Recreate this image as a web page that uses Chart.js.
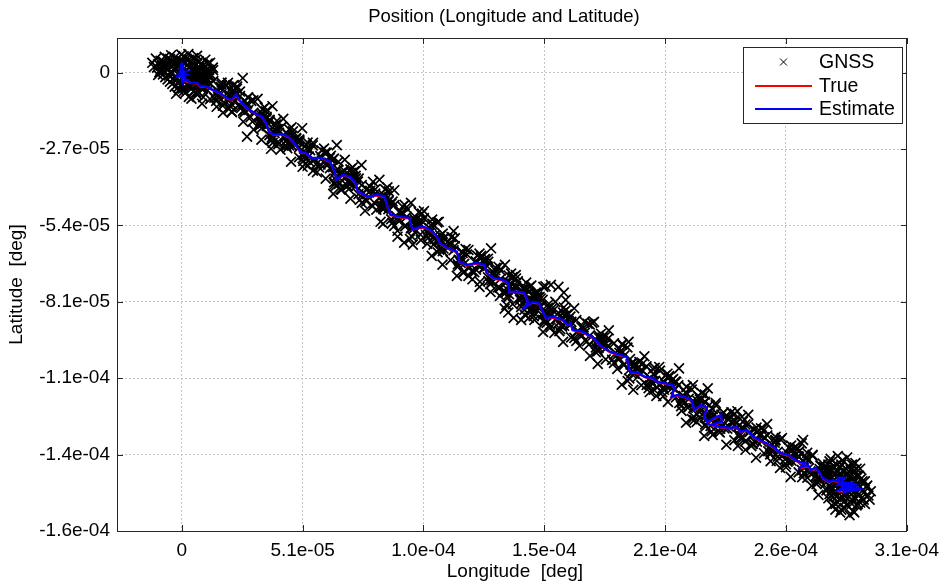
<!DOCTYPE html>
<html>
<head>
<meta charset="utf-8">
<script src="https://cdn.jsdelivr.net/npm/chart.js@4.4.1/dist/chart.umd.min.js"></script>
<style>
  html, body { margin: 0; padding: 0; background: #ffffff; }
  #wrap { width: 947px; height: 585px; position: relative; }
</style>
</head>
<body>
<div id="wrap"><canvas id="pos" width="947" height="585"></canvas></div>
<script>
// Positions are kept in micro-degrees: [longitude, latitude]
const MICRO = 1e-6;

const xTickValues = [0, 51.3, 102.6, 153.9, 205.2, 256.5, 307.8];
const xTickLabels = ['0', '5.1e-05', '1.0e-04', '1.5e-04', '2.1e-04', '2.6e-04', '3.1e-04'];
const yTickValues = [0, -27.1, -54.2, -81.3, -108.4, -135.5, -162.6];
const yTickLabels = ['0', '-2.7e-05', '-5.4e-05', '-8.1e-05', '-1.1e-04', '-1.4e-04', '-1.6e-04'];
const xRange = [-27.5, 307.8];
const yRange = [-162.6, 12.3];

// GNSS fixes while parked at the start
const gnssStart = [
  [-12.5,3.5],[-11,5],[-10.5,1.8],[-9,4.2],[-8.5,2.5],[-8,0.5],[-7.2,5.6],[-6.5,3],[-6,1.2],[-5.5,-1],
  [-5,4.8],[-4.4,2.2],[-4,0],[-3.6,-2.2],[-3,5.4],[-2.5,3.4],[-2,1.5],[-1.6,-0.6],[-1,-3],[-0.5,4.4],
  [0,2.2],[0.4,-1.4],[0.8,5.8],[1.2,3.6],[1.6,0.8],[2,-2.5],[2.5,-4.4],[3,4.6],[3.4,2],[3.8,-0.4],
  [4.2,-3],[4.8,5.2],[5.2,3],[5.6,0.6],[6,-1.8],[6.6,-4],[7.2,4],[7.6,1.8],[8,-0.6],[8.6,-2.8],
  [9.2,2.6],[9.8,0.4],[10.4,-1.8],[11,3.2],[11.6,1],[12.5,-0.8],[13.2,1.8],[-3,-5],[-1.2,-6.2],[0.5,-5.6],
  [-5,-3.2],[-7,-1.6],[-9.5,0.2],[-11.8,2],[-2.4,-7.5],[1.5,-7.2],[4,-5.8],[-0.2,6.4],[-4.5,6.2],[2.8,6.6],
  [6.5,6],[10,4.6],
  [-10,3],[-8,4],[-6,5],[-4,3.8],[-2,4.8],[0,4],[2,5],[4,3.8],[6,4.6],[8,3],
  [10,2],[-9,1],[-7,2],[-5,0],[-3,1.4],[-1,2.8],[1,1.6],[3,0],[5,1.8],[7,0.2],
  [9,-1],[11,0],[-6,-2.4],[-4,-4],[-2,-1.8],[0,-4.4],[2,-0.8],[4,-2],[6,-3.2],[-1.5,-5.2],
  [1,-6.4],[3,-5],[-8,-0.6],[-10,-0.8],[12,3.5]
];

// GNSS fixes along the route
const gnssRoute = [
  [1.6,0.5],[6.1,-7.0],[3.4,-4.5],[7.3,-1.0],[7.4,1.7],[3.5,-2.2],[9.1,-8.7],[5.2,-6.4],
  [4.1,-9.2],[8.8,-1.3],[11.0,-6.3],[7.2,-4.0],[13.3,0.9],[8.6,-11.0],[10.8,-2.9],[7.8,-5.2],
  [14.6,-10.0],[12.1,-1.3],[16.7,-5.1],[10.0,-3.1],[13.4,-3.0],[17.9,-10.5],[15.2,-8.0],[19.1,-4.5],
  [19.6,-3.6],[15.7,-7.5],[21.3,-14.0],[17.4,-11.7],[17.5,-14.2],[22.2,-6.3],[24.4,-11.3],[20.6,-9.0],
  [25.9,-1.9],[21.2,-13.8],[23.4,-5.7],[20.4,-8.0],[26.0,-13.6],[23.5,-4.9],[28.1,-8.7],[21.4,-6.7],
  [24.7,-8.3],[29.2,-15.8],[26.5,-13.3],[30.4,-9.8],[32.2,-9.3],[28.3,-13.2],[33.9,-19.7],[30.0,-17.4],
  [30.5,-20.2],[35.2,-12.3],[37.4,-17.3],[33.6,-15.0],[38.5,-11.9],[33.8,-23.8],[36.0,-15.7],[33.0,-18.0],
  [38.6,-24.9],[36.1,-16.2],[40.7,-20.0],[34.0,-18.0],[36.5,-17.9],[41.0,-25.4],[38.3,-22.9],[42.2,-19.4],
  [43.1,-16.4],[39.2,-20.3],[44.8,-26.8],[40.9,-24.5],[41.9,-27.3],[46.6,-19.4],[48.8,-24.4],[45.0,-22.1],
  [51.1,-19.7],[46.4,-31.6],[48.6,-23.5],[45.6,-25.8],[52.4,-32.4],[49.9,-23.7],[54.5,-27.5],[47.8,-25.5],
  [49.9,-24.3],[54.4,-31.8],[51.7,-29.3],[55.6,-25.8],[55.7,-24.9],[51.8,-28.8],[57.4,-35.3],[53.5,-33.0],
  [55.7,-34.8],[60.4,-26.9],[62.6,-31.9],[58.8,-29.6],[65.8,-25.7],[61.1,-37.6],[63.3,-29.5],[60.3,-31.8],
  [66.7,-39.5],[64.2,-30.8],[68.8,-34.6],[62.1,-32.6],[62.9,-33.9],[67.4,-41.4],[64.7,-38.9],[68.6,-35.4],
  [69.2,-30.9],[65.3,-34.8],[70.9,-41.3],[67.0,-39.0],[67.9,-41.5],[72.6,-33.6],[74.8,-38.6],[71.0,-36.3],
  [76.3,-32.8],[71.6,-44.7],[73.8,-36.6],[70.8,-38.9],[76.4,-46.2],[73.9,-37.5],[78.5,-41.3],[71.8,-39.3],
  [76.4,-39.9],[80.9,-47.4],[78.2,-44.9],[82.1,-41.4],[83.9,-38.0],[80.0,-41.9],[85.6,-48.4],[81.7,-46.1],
  [82.6,-48.6],[87.3,-40.7],[89.5,-45.7],[85.7,-43.4],[90.2,-41.7],[85.5,-53.6],[87.7,-45.5],[84.7,-47.8],
  [90.2,-54.4],[87.7,-45.7],[92.3,-49.5],[85.6,-47.5],[90.2,-47.0],[94.7,-54.5],[92.0,-52.0],[95.9,-48.5],
  [97.3,-46.2],[93.4,-50.1],[99.0,-56.6],[95.1,-54.3],[94.4,-60.3],[99.1,-52.4],[101.3,-57.4],[97.5,-55.1],
  [102.8,-49.1],[98.1,-61.0],[100.3,-52.9],[97.3,-55.2],[104.5,-58.7],[102.0,-50.0],[106.6,-53.8],[99.9,-51.8],
  [102.8,-51.6],[107.3,-59.1],[104.6,-56.6],[108.5,-53.1],[109.1,-52.9],[105.2,-56.8],[110.8,-63.3],[106.9,-61.0],
  [106.1,-65.0],[110.8,-57.1],[113.0,-62.1],[109.2,-59.8],[115.4,-56.2],[110.7,-68.1],[112.9,-60.0],[109.9,-62.3],
  [118.4,-67.5],[115.9,-58.8],[120.5,-62.6],[113.8,-60.6],[115.4,-63.0],[119.9,-70.5],[117.2,-68.0],[121.1,-64.5],
  [121.7,-62.9],[117.8,-66.8],[123.4,-73.3],[119.5,-71.0],[121.7,-72.1],[126.4,-64.2],[128.6,-69.2],[124.8,-66.9],
  [131.3,-62.3],[126.6,-74.2],[128.8,-66.1],[125.8,-68.4],[131.0,-75.0],[128.5,-66.3],[133.1,-70.1],[126.4,-68.1],
  [129.7,-68.7],[134.2,-76.2],[131.5,-73.7],[135.4,-70.2],[137.2,-68.2],[133.3,-72.1],[138.9,-78.6],[135.0,-76.3],
  [135.1,-79.2],[139.8,-71.3],[142.0,-76.3],[138.2,-74.0],[141.8,-71.8],[137.1,-83.7],[139.3,-75.6],[136.3,-77.9],
  [144.4,-81.7],[141.9,-73.0],[146.5,-76.8],[139.8,-74.8],[142.7,-74.0],[147.2,-81.5],[144.5,-79.0],[148.4,-75.5],
  [147.7,-76.0],[143.8,-79.9],[149.4,-86.4],[145.5,-84.1],[145.6,-85.9],[150.3,-78.0],[152.5,-83.0],[148.7,-80.7],
  [154.4,-75.8],[149.7,-87.7],[151.9,-79.6],[148.9,-81.9],[154.9,-88.8],[152.4,-80.1],[157.0,-83.9],[150.3,-81.9],
  [152.0,-82.9],[156.5,-90.4],[153.8,-87.9],[157.7,-84.4],[158.6,-81.3],[154.7,-85.2],[160.3,-91.7],[156.4,-89.4],
  [158.2,-92.3],[162.9,-84.4],[165.1,-89.4],[161.3,-87.1],[166.6,-83.6],[161.9,-95.5],[164.1,-87.4],[161.1,-89.7],
  [167.5,-95.2],[165.0,-86.5],[169.6,-90.3],[162.9,-88.3],[167.5,-87.8],[172.0,-95.3],[169.3,-92.8],[173.2,-89.3],
  [175.0,-88.4],[171.1,-92.3],[176.7,-98.8],[172.8,-96.5],[173.3,-100.5],[178.0,-92.6],[180.2,-97.6],[176.4,-95.3],
  [181.3,-91.4],[176.6,-103.3],[178.8,-95.2],[175.8,-97.5],[183.5,-103.0],[181.0,-94.3],[185.6,-98.1],[178.9,-96.1],
  [183.5,-96.0],[188.0,-103.5],[185.3,-101.0],[189.2,-97.5],[189.7,-95.5],[185.8,-99.4],[191.4,-105.9],[187.5,-103.6],
  [186.8,-110.7],[191.5,-102.8],[193.7,-107.8],[189.9,-105.5],[196.4,-100.6],[191.7,-112.5],[193.9,-104.4],[190.9,-106.7],
  [198.2,-111.9],[195.7,-103.2],[200.3,-107.0],[193.6,-105.0],[197.3,-104.2],[201.8,-111.7],[199.1,-109.2],[203.0,-105.7],
  [202.7,-104.4],[198.8,-108.3],[204.4,-114.8],[200.5,-112.5],[201.5,-114.7],[206.2,-106.8],[208.4,-111.8],[204.6,-109.5],
  [211.1,-104.9],[206.4,-116.8],[208.6,-108.7],[205.6,-111.0],[212.0,-118.3],[209.5,-109.6],[214.1,-113.4],[207.4,-111.4],
  [210.8,-110.9],[215.3,-118.4],[212.6,-115.9],[216.5,-112.4],[217.0,-110.8],[213.1,-114.7],[218.7,-121.2],[214.8,-118.9],
  [214.1,-124.2],[218.8,-116.3],[221.0,-121.3],[217.2,-119.0],[223.3,-112.0],[218.6,-123.9],[220.8,-115.8],[217.8,-118.1],
  [224.6,-122.9],[222.1,-114.2],[226.7,-118.0],[220.0,-116.0],[220.4,-119.8],[224.9,-127.3],[222.2,-124.8],[226.1,-121.3],
  [226.7,-117.2],[222.8,-121.1],[228.4,-127.6],[224.5,-125.3],[225.4,-128.5],[230.1,-120.6],[232.3,-125.6],[228.5,-123.3],
  [235.9,-120.1],[231.2,-132.0],[233.4,-123.9],[230.4,-126.2],[237.2,-129.7],[234.7,-121.0],[239.3,-124.8],[232.6,-122.8],
  [234.7,-123.3],[239.2,-130.8],[236.5,-128.3],[240.4,-124.8],[240.5,-121.4],[236.6,-125.3],[242.2,-131.8],[238.3,-129.5],
  [239.3,-133.8],[244.0,-125.9],[246.2,-130.9],[242.4,-128.6],[248.5,-124.7],[243.8,-136.6],[246.0,-128.5],[243.0,-130.8],
  [249.8,-135.4],[247.3,-126.7],[251.9,-130.5],[245.2,-128.5],[248.6,-128.7],[253.1,-136.2],[250.4,-133.7],[254.3,-130.2],
  [254.8,-129.6],[250.9,-133.5],[256.5,-140.0],[252.6,-137.7],[254.0,-140.2],[258.7,-132.3],[260.9,-137.3],[257.1,-135.0],
  [263.2,-131.5],[258.5,-143.4],[260.7,-135.3],[257.7,-137.6],[264.1,-142.1],[261.6,-133.4],[266.2,-137.2],[259.5,-135.2],
  [262.0,-134.4],[266.5,-141.9],[263.8,-139.4],[267.7,-135.9],[267.8,-135.6],[263.9,-139.5],[269.5,-146.0],[265.6,-143.7],
  [267.4,-146.6],[272.1,-138.7],[274.3,-143.7],[270.5,-141.4],[275.0,-137.9],[270.3,-149.8],[272.5,-141.7],[269.5,-144.0],
  [276.7,-149.2],[274.2,-140.5],[278.8,-144.3],[272.1,-142.3]
];

// Further GNSS fixes along the route (outer band)
const gnssRouteB = [
  [5.1,0.0],[3.0,-8.6],[4.7,1.0],[8.8,-5.8],[9.4,-2.7],[6.6,-7.9],[9.1,-1.8],[12.0,-9.4],[15.4,-6.5],[10.7,-0.8],
  [16.9,-3.5],[14.8,-12.1],[16.9,-4.3],[21.0,-11.1],[22.8,-7.7],[20.0,-12.9],[21.7,-4.6],[24.6,-12.2],[26.8,-10.1],[22.1,-4.4],
  [28.2,-8.8],[26.1,-17.4],[29.5,-10.0],[33.6,-16.8],[35.8,-13.7],[33.0,-18.9],[34.3,-14.6],[37.2,-22.2],[39.4,-21.4],[34.7,-15.7],
  [40.0,-18.4],[37.9,-27.0],[40.4,-17.1],[44.5,-23.9],[47.2,-20.8],[44.4,-26.0],[46.9,-22.4],[49.8,-30.0],[53.2,-28.9],[48.5,-23.2],
  [53.4,-24.8],[51.3,-33.4],[53.0,-25.6],[57.1,-32.4],[61.0,-28.3],[58.2,-33.5],[61.6,-28.4],[64.5,-36.0],[67.5,-36.0],[62.8,-30.3],
  [66.4,-34.4],[64.3,-43.0],[66.5,-31.6],[70.6,-38.4],[73.2,-35.0],[70.4,-40.2],[72.1,-35.5],[75.0,-43.1],[77.2,-42.7],[72.5,-37.0],
  [79.9,-40.4],[77.8,-49.0],[81.2,-38.7],[85.3,-45.5],[87.9,-42.1],[85.1,-47.3],[86.0,-44.4],[88.9,-52.0],[91.0,-50.9],[86.3,-45.2],
  [93.7,-47.5],[91.6,-56.1],[94.6,-46.9],[98.7,-53.7],[99.7,-53.8],[96.9,-59.0],[98.6,-51.8],[101.5,-59.4],[105.3,-55.2],[100.6,-49.5],
  [106.3,-52.1],[104.2,-60.7],[106.4,-53.6],[110.5,-60.4],[111.4,-58.5],[108.6,-63.7],[111.2,-58.9],[114.1,-66.5],[119.2,-64.0],[114.5,-58.3],
  [118.9,-63.5],[116.8,-72.1],[119.0,-63.6],[123.1,-70.4],[127.0,-65.6],[124.2,-70.8],[127.1,-65.0],[130.0,-72.6],[131.8,-71.5],[127.1,-65.8],
  [133.2,-69.2],[131.1,-77.8],[134.5,-68.9],[138.6,-75.7],[140.4,-72.7],[137.6,-77.9],[137.6,-74.5],[140.5,-82.1],[145.2,-78.2],[140.5,-72.5],
  [146.2,-74.5],[144.1,-83.1],[145.0,-76.7],[149.1,-83.5],[150.9,-79.4],[148.1,-84.6],[150.2,-78.5],[153.1,-86.1],[155.7,-85.3],[151.0,-79.6],
  [155.5,-83.4],[153.4,-92.0],[155.9,-82.0],[160.0,-88.8],[163.5,-85.8],[160.7,-91.0],[162.4,-86.3],[165.3,-93.9],[168.3,-91.7],[163.6,-86.0],
  [171.0,-88.3],[168.9,-96.9],[172.3,-89.1],[176.4,-95.9],[178.6,-94.0],[175.8,-99.2],[177.1,-94.1],[180.0,-101.7],[184.3,-99.5],[179.6,-93.8],
  [187.0,-96.5],[184.9,-105.1],[187.0,-96.2],[191.1,-103.0],[192.1,-104.2],[189.3,-109.4],[192.2,-103.3],[195.1,-110.9],[199.0,-108.4],[194.3,-102.7],
  [200.8,-104.7],[198.7,-113.3],[200.0,-105.1],[204.1,-111.9],[206.8,-108.2],[204.0,-113.4],[206.9,-107.6],[209.8,-115.2],[212.8,-114.8],[208.1,-109.1],
  [214.3,-111.4],[212.2,-120.0],[214.3,-111.5],[218.4,-118.3],[219.4,-117.7],[216.6,-122.9],[219.1,-114.7],[222.0,-122.3],[225.4,-119.4],[220.7,-113.7],
  [223.9,-120.3],[221.8,-128.9],[224.0,-117.9],[228.1,-124.7],[230.7,-122.0],[227.9,-127.2],[231.7,-122.8],[234.6,-130.4],[238.0,-126.2],[233.3,-120.5],
  [238.2,-123.8],[236.1,-132.4],[237.8,-122.1],[241.9,-128.9],[244.6,-127.3],[241.8,-132.5],[244.3,-127.4],[247.2,-135.0],[250.6,-131.9],[245.9,-126.2],
  [252.1,-129.2],[250.0,-137.8],[252.1,-130.3],[256.2,-137.1],[259.3,-133.7],[256.5,-138.9],[259.0,-134.2],[261.9,-141.8],[264.9,-138.6],[260.2,-132.9],
  [265.5,-134.9],[263.4,-143.5],[265.1,-136.3],[269.2,-143.1],[272.7,-140.1],[269.9,-145.3],[270.8,-140.6],[273.7,-148.2],[277.5,-145.7],[272.8,-140.0]
];

// GNSS fixes close to the travelled line (inner band)
const gnssRouteC = [
  [4.7,-2.1],[3.6,-5.2],[5.6,-3.2],[8.0,-4.4],[7.8,-2.0],[7.3,-7.0],[12.1,-3.9],[9.0,-5.3],[12.1,-4.0],[13.8,-8.9],
  [16.5,-5.6],[15.4,-8.7],[17.8,-8.5],[20.2,-9.7],[21.2,-7.0],[20.7,-12.0],[24.7,-6.7],[21.6,-8.1],[23.5,-7.6],[25.2,-12.5],
  [27.8,-10.9],[26.7,-14.0],[30.4,-14.2],[32.8,-15.4],[34.2,-13.0],[33.7,-18.0],[37.3,-16.7],[34.2,-18.1],[36.1,-18.9],[37.8,-23.8],
  [39.6,-20.5],[38.5,-23.6],[41.3,-21.3],[43.7,-22.5],[45.6,-20.1],[45.1,-25.1],[49.9,-24.5],[46.8,-25.9],[49.9,-26.4],[51.6,-31.3],
  [53.0,-26.9],[51.9,-30.0],[53.9,-29.8],[56.3,-31.0],[59.4,-27.6],[58.9,-32.6],[64.6,-30.5],[61.5,-31.9],[64.2,-33.5],[65.9,-38.4],
  [66.0,-36.5],[64.9,-39.6],[67.4,-35.8],[69.8,-37.0],[71.6,-34.3],[71.1,-39.3],[75.1,-37.6],[72.0,-39.0],[73.9,-40.2],[75.6,-45.1],
  [79.5,-42.5],[78.4,-45.6],[82.1,-42.9],[84.5,-44.1],[86.3,-41.4],[85.8,-46.4],[89.0,-46.5],[85.9,-47.9],[87.7,-48.4],[89.4,-53.3],
  [93.3,-49.6],[92.2,-52.7],[95.5,-51.1],[97.9,-52.3],[98.1,-53.1],[97.6,-58.1],[101.6,-53.9],[98.5,-55.3],[102.0,-52.7],[103.7,-57.6],
  [105.9,-54.2],[104.8,-57.3],[107.3,-57.8],[109.7,-59.0],[109.8,-57.8],[109.3,-62.8],[114.2,-61.0],[111.1,-62.4],[115.9,-61.5],[117.6,-66.4],
  [118.5,-65.6],[117.4,-68.7],[119.9,-67.8],[122.3,-69.0],[125.4,-64.9],[124.9,-69.9],[130.1,-67.1],[127.0,-68.5],[128.5,-69.0],[130.2,-73.9],
  [132.8,-71.3],[131.7,-74.4],[135.4,-73.1],[137.8,-74.3],[138.8,-72.0],[138.3,-77.0],[140.6,-76.6],[137.5,-78.0],[141.9,-75.7],[143.6,-80.6],
  [145.8,-76.6],[144.7,-79.7],[145.9,-80.9],[148.3,-82.1],[149.3,-78.7],[148.8,-83.7],[153.2,-80.6],[150.1,-82.0],[152.4,-82.8],[154.1,-87.7],
  [155.1,-85.5],[154.0,-88.6],[156.8,-86.2],[159.2,-87.4],[161.9,-85.1],[161.4,-90.1],[165.4,-88.4],[162.3,-89.8],[165.0,-89.2],[166.7,-94.1],
  [170.6,-90.4],[169.5,-93.5],[173.2,-93.3],[175.6,-94.5],[177.0,-93.3],[176.5,-98.3],[180.1,-96.2],[177.0,-97.6],[181.0,-97.0],[182.7,-101.9],
  [186.6,-98.6],[185.5,-101.7],[187.9,-100.4],[190.3,-101.6],[190.5,-103.5],[190.0,-108.5],[195.2,-105.4],[192.1,-106.8],[195.7,-105.9],[197.4,-110.8],
  [200.4,-106.8],[199.3,-109.9],[200.9,-109.3],[203.3,-110.5],[205.2,-107.5],[204.7,-112.5],[209.9,-109.7],[206.8,-111.1],[209.5,-112.3],[211.2,-117.2],
  [213.9,-113.5],[212.8,-116.6],[215.2,-115.7],[217.6,-116.9],[217.8,-117.0],[217.3,-122.0],[222.1,-116.8],[219.0,-118.2],[222.1,-116.9],[223.8,-121.8],
  [223.5,-122.4],[222.4,-125.5],[224.9,-122.1],[227.3,-123.3],[229.1,-121.3],[228.6,-126.3],[234.7,-124.9],[231.6,-126.3],[234.7,-123.7],[236.4,-128.6],
  [237.8,-125.9],[236.7,-129.0],[238.7,-126.3],[241.1,-127.5],[243.0,-126.6],[242.5,-131.6],[247.3,-129.5],[244.2,-130.9],[247.3,-129.4],[249.0,-134.3],
  [251.7,-131.3],[250.6,-134.4],[253.0,-134.5],[255.4,-135.7],[257.7,-133.0],[257.2,-138.0],[262.0,-136.3],[258.9,-137.7],[261.6,-136.1],[263.3,-141.0],
  [265.1,-137.0],[264.0,-140.1],[266.0,-140.5],[268.4,-141.7],[271.1,-139.4],[270.6,-144.4],[273.8,-142.7],[270.7,-144.1],[274.2,-143.2],[275.9,-148.1]
];

// Loops traced by the receiver around mid-route, plus isolated outliers
const gnssLoops = [
  [150.4,-82.4],[149.6,-79.7],[147.3,-77.8],[144.1,-77.1],[140.9,-77.8],[138.6,-79.7],
  [137.8,-82.4],[138.6,-85.1],[140.9,-87.0],[144.1,-87.7],[147.3,-87.0],[149.6,-85.1],
  [163.0,-80.6],[162.2,-78.0],[159.9,-76.0],[156.7,-75.3],[153.5,-76.0],[151.2,-78.0],
  [150.4,-80.6],[151.2,-83.3],[153.5,-85.2],[156.7,-85.9],[159.9,-85.2],[162.2,-83.3],
  [27.7,-22.7],[65.5,-40.1],[91.6,-58.2],[84.4,-52.9],[126.4,-76.0],[174.3,-88.8],
  [217.6,-123.2],[263.8,-130.3],[108.4,-59.3],[130.0,-66.0]
];

// GNSS fixes while parked at the end
const gnssEnd = [
  [271.5,-139.5],[273.0,-143.0],[274.0,-147.5],[274.5,-151.0],[275.5,-137.0],[276.0,-141.0],[276.5,-145.0],[277.0,-149.0],
  [277.5,-153.0],[278.0,-139.0],[278.5,-143.0],[279.0,-147.0],[279.5,-151.0],[280.0,-155.0],[280.5,-137.5],[281.0,-141.5],
  [281.5,-145.5],[282.0,-149.5],[282.5,-153.5],[283.0,-139.5],[283.5,-143.5],[284.0,-147.5],[284.5,-151.5],[285.0,-155.5],
  [285.5,-141.0],[286.0,-145.0],[286.5,-149.0],[287.0,-153.0],[287.5,-143.0],[288.0,-147.0],[288.5,-151.0],[289.0,-145.0],
  [289.5,-149.0],[290.5,-147.0],[291.5,-150.0],[292.5,-148.5],[273.5,-145.5],[275.0,-149.5],[276.0,-153.5],[277.5,-142.5],
  [279.5,-140.0],[280.5,-144.0],[281.0,-148.0],[281.5,-152.0],[283.0,-145.0],[284.0,-141.0],[285.0,-149.0],[286.5,-153.5],
  [288.0,-140.5],[290.0,-153.0],[278.5,-136.0],[282.5,-136.5],[286.0,-138.5],[279.5,-156.0],[283.5,-157.0],[284.5,-144.5],
  [287.0,-146.0],[276.5,-147.5],[278.0,-150.5],[282.0,-143.0],
  [274.5,-139.0],[276.5,-139.5],[278.0,-141.5],[280.0,-139.0],[282.0,-140.5],[284.5,-139.0],[286.5,-140.5],[274.0,-141.5],
  [276.0,-143.5],[278.0,-145.5],[280.0,-142.5],[282.5,-142.0],[284.5,-142.5],[286.5,-143.0],[288.5,-144.0],[290.0,-145.0],
  [275.5,-147.0],[277.5,-146.5],[279.5,-148.5],[281.5,-146.5],[283.5,-149.0],[285.5,-147.0],[287.5,-149.5],[289.5,-151.5],
  [276.5,-150.5],[278.5,-152.5],[280.5,-150.5],[282.5,-151.0],[284.5,-153.0],[286.0,-151.0],[288.0,-152.5],[277.5,-155.0],
  [281.5,-154.5],[285.5,-156.0],[291.0,-146.5],[292.0,-151.5]
];

// Reference trajectory
const truePath = [
  [0,0],[0.4,-1.8],[0.8,-2.9],[2.5,-3.3],[4.2,-3.7],[6.7,-3.9],[7.6,-4.9],[10.5,-5.2],[13.0,-6.2],[16.0,-7.3],
  [18.9,-9.1],[21.0,-9.8],[23.1,-8.2],[24.4,-9.9],[27.3,-12.6],[31.5,-14.8],[34.0,-15.9],[35.7,-18.0],[37.0,-21.1],[39.1,-22.2],
  [42.4,-21.9],[45.4,-23.0],[48.3,-25.8],[50.8,-28.6],[52.5,-28.6],[55.0,-30.4],[59.2,-30.4],[63.0,-31.8],[65.1,-35.7],[65.5,-38.1],
  [68.5,-36.4],[71.4,-37.2],[73.5,-39.0],[74.8,-42.4],[79.0,-44.2],[83.2,-43.6],[86.1,-44.3],[87.4,-47.8],[88.6,-50.6],[92.8,-51.4],
  [96.6,-51.7],[97.9,-55.8],[100.0,-55.3],[102.9,-55.0],[105.4,-55.9],[108.4,-58.4],[109.6,-60.6],[112.6,-62.4],[116.8,-63.7],[118.0,-67.3],
  [121.0,-68.5],[125.2,-67.8],[128.5,-68.4],[129.4,-71.2],[132.3,-73.1],[136.5,-73.8],[138.6,-74.8],[139.0,-77.9],[142.8,-78.0],[145.3,-78.4],
  [147.0,-81.5],[145.5,-83.2],[149.1,-81.6],[151.6,-82.0],[153.3,-85.0],[154.6,-87.2],[157.9,-86.9],[161.7,-88.0],[163.8,-89.7],[165.1,-89.1],
  [165.9,-91.4],[170.1,-92.2],[174.3,-94.0],[176.8,-96.1],[178.5,-97.5],[181.9,-99.3],[186.1,-100.4],[189.0,-101.0],[189.4,-103.2],[190.3,-106.3],
  [193.6,-106.8],[196.6,-108.1],[199.9,-108.6],[202.0,-109.9],[205.0,-110.4],[208.3,-111.0],[209.2,-112.0],[207.9,-115.2],[210.4,-114.6],[213.4,-115.2],
  [216.3,-116.4],[217.6,-119.8],[220.5,-118.2],[223.0,-119.1],[221.8,-122.3],[223.0,-124.1],[226.0,-122.8],[228.9,-121.6],[229.3,-124.1],[224.7,-125.1],
  [228.9,-126.0],[233.1,-126.2],[235.6,-126.0],[237.3,-127.6],[239.8,-127.0],[242.8,-129.4],[245.7,-130.9],[248.2,-131.6],[251.2,-133.1],[254.1,-135.1],
  [257.5,-135.9],[260.4,-137.6],[262.5,-138.6],[264.6,-139.0],[263.5,-140.2],[265.9,-139.6],[267.1,-141.1],[269.2,-140.5],[270.9,-142.2],[272.2,-144.1],
  [275.1,-145.4],[276.4,-144.8],[279.3,-145.5],[281.0,-147.6],[279.5,-148.6],[282.2,-148.9]
];

// Filter estimate
const estPath = [
  [-1.3,0.4],[1.7,0.4],[-0.8,-0.4],[1.7,-0.7],[-1.3,-1.4],[1.3,-1.8],[-0.4,1.1],[0.8,1.8],[0,2.8],[0.4,3.6],
  [-0.4,2.5],[0.4,-0.4],[0,-2.5],[0.4,-3.6],[1.3,-2.5],
  [4.2,-3.6],[6.7,-3.6],[7.6,-4.6],[10.5,-5.0],[13.0,-6.0],[16.0,-7.1],[18.9,-8.9],[21.0,-9.6],[23.1,-7.8],[24.4,-9.6],
  [27.3,-12.4],[31.5,-14.6],[34.0,-15.6],[35.7,-17.8],[37.0,-20.9],[39.1,-22.0],[42.4,-21.7],[45.4,-22.7],[48.3,-25.6],[50.8,-28.4],
  [52.5,-28.4],[55.0,-30.2],[59.2,-30.2],[63.0,-31.6],[65.1,-35.5],[65.5,-38.0],[68.5,-36.2],[71.4,-36.9],[73.5,-38.7],[74.8,-42.2],
  [79.0,-44.0],[83.2,-43.3],[86.1,-44.0],[87.4,-47.6],[88.6,-50.4],[92.8,-51.1],[96.6,-51.5],[97.9,-55.7],[100.0,-55.0],[102.9,-54.7],
  [105.4,-55.7],[108.4,-58.2],[109.6,-60.4],[112.6,-62.1],[116.8,-63.5],[118.0,-67.1],[121.0,-68.2],[125.2,-67.5],[128.5,-68.2],[129.4,-71.0],
  [132.3,-72.8],[136.5,-73.5],[138.6,-74.6],[139.0,-77.7],[142.8,-77.7],[145.3,-78.1],[147.0,-81.3],[145.3,-83.4],[149.1,-81.3],[151.6,-81.7],
  [153.3,-84.8],[154.6,-87.0],[157.9,-86.6],[161.7,-87.7],[163.8,-89.5],[165.1,-88.8],[165.9,-91.2],[170.1,-91.9],[174.3,-93.7],[176.8,-95.9],
  [178.5,-97.3],[181.9,-99.0],[186.1,-100.1],[189.0,-100.8],[189.4,-103.0],[190.3,-106.1],[193.6,-106.5],[196.6,-107.9],[199.9,-108.3],[202.0,-109.7],
  [205.0,-110.1],[208.3,-110.8],[209.2,-111.8],[207.9,-115.0],[210.4,-114.3],[213.4,-115.0],[216.3,-116.1],[217.6,-119.6],[220.5,-117.9],[223.0,-118.9],
  [221.8,-122.1],[223.0,-123.9],[226.0,-122.5],[228.9,-121.4],[229.3,-123.9],[224.7,-124.9],[228.9,-125.7],[233.1,-126.0],[235.6,-125.7],[237.3,-127.4],
  [239.8,-126.7],[242.8,-129.2],[245.7,-130.6],[248.2,-131.4],[251.2,-132.8],[254.1,-134.9],[257.5,-135.6],[260.4,-137.4],[262.5,-138.1],[264.6,-138.5],
  [262.9,-139.9],[265.9,-139.2],[267.1,-140.9],[269.2,-140.2],[270.9,-142.0],[272.2,-143.8],[275.1,-145.2],[276.4,-144.5],[279.3,-145.2],
  [278.5,-143.8],[281.4,-143.8],[278.5,-146.3],[283.9,-145.6],[278.9,-148.1],[287.3,-147.0],[280.6,-148.8],[288.1,-147.7],[282.7,-146.7],[285.6,-146.0],
  [280.0,-145.2],[280.6,-147.4],[283.1,-148.1],[284.8,-147.0]
];

const FONT = "'Liberation Sans', Arial, Helvetica, sans-serif";
const toXY = pts => pts.map(([lon, lat]) => ({ x: lon * MICRO, y: lat * MICRO }));
const gnssAll = [].concat(gnssStart, gnssRoute, gnssRouteB, gnssRouteC, gnssLoops, gnssEnd);

// Box, inward ticks, title, axis titles and legend
const framePlugin = {
  id: 'framePlugin',
  afterDatasetsDraw(chart) {
    const { ctx, chartArea: a, scales } = chart;
    const xs = scales.x, ys = scales.y;
    ctx.save();
    ctx.strokeStyle = '#262626';
    ctx.lineWidth = 1;
    ctx.beginPath();
    xTickValues.forEach(v => {
      const px = Math.round(xs.getPixelForValue(v * MICRO)) + 0.5;
      ctx.moveTo(px, a.bottom); ctx.lineTo(px, a.bottom - 6);
      ctx.moveTo(px, a.top); ctx.lineTo(px, a.top + 6);
    });
    yTickValues.forEach(v => {
      const py = Math.round(ys.getPixelForValue(v * MICRO)) + 0.5;
      ctx.moveTo(a.left, py); ctx.lineTo(a.left + 6, py);
      ctx.moveTo(a.right, py); ctx.lineTo(a.right - 6, py);
    });
    ctx.stroke();
    ctx.strokeRect(Math.round(a.left) + 0.5, Math.round(a.top) + 0.5,
                   Math.round(a.right - a.left) - 1, Math.round(a.bottom - a.top));

    // titles
    ctx.fillStyle = '#000';
    ctx.textAlign = 'center';
    ctx.textBaseline = 'middle';
    ctx.font = '18.5px ' + FONT;
    ctx.fillText('Position (Longitude and Latitude)', (a.left + a.right) / 2 - 8, 17);
    ctx.font = '19px ' + FONT;
    ctx.fillText('Longitude  [deg]', (a.left + a.right) / 2 + 3, 572);
    ctx.save();
    ctx.translate(17, (a.top + a.bottom) / 2);
    ctx.rotate(-Math.PI / 2);
    ctx.fillText('Latitude  [deg]', 0, 0);
    ctx.restore();

    // legend
    const lx = 743.5, ly = 47.5, lw = 159, lh = 76;
    ctx.fillStyle = '#fff';
    ctx.fillRect(lx, ly, lw, lh);
    ctx.strokeStyle = '#262626';
    ctx.strokeRect(lx, ly, lw, lh);
    const rows = [62, 86, 109];
    ctx.strokeStyle = '#000';
    ctx.beginPath();
    ctx.moveTo(780, rows[0] - 3.5); ctx.lineTo(787, rows[0] + 3.5);
    ctx.moveTo(787, rows[0] - 3.5); ctx.lineTo(780, rows[0] + 3.5);
    ctx.stroke();
    ctx.lineWidth = 2;
    ctx.strokeStyle = '#ff0000';
    ctx.beginPath(); ctx.moveTo(755, rows[1]); ctx.lineTo(812, rows[1]); ctx.stroke();
    ctx.strokeStyle = '#0000ff';
    ctx.beginPath(); ctx.moveTo(755, rows[2]); ctx.lineTo(812, rows[2]); ctx.stroke();
    ctx.fillStyle = '#000';
    ctx.textAlign = 'left';
    ctx.font = '19.5px ' + FONT;
    ctx.fillText('GNSS', 819, rows[0] + 1);
    ctx.fillText('True', 819, rows[1] + 1);
    ctx.fillText('Estimate', 819, rows[2] + 1);
    ctx.restore();
  }
};

new Chart(document.getElementById('pos'), {
  type: 'scatter',
  data: {
    datasets: [
      {
        label: 'GNSS',
        data: toXY(gnssAll),
        showLine: false,
        pointStyle: 'crossRot',
        pointRadius: 7,
        pointBorderWidth: 1.7,
        borderColor: '#000000',
        backgroundColor: '#000000',
        order: 3
      },
      {
        label: 'True',
        data: toXY(truePath),
        showLine: true,
        borderColor: '#ff0000',
        borderWidth: 2,
        pointRadius: 0,
        tension: 0,
        order: 2
      },
      {
        label: 'Estimate',
        data: toXY(estPath),
        showLine: true,
        borderColor: '#0000ff',
        borderWidth: 2.3,
        pointRadius: 0,
        tension: 0,
        order: 1
      }
    ]
  },
  options: {
    responsive: false,
    animation: false,
    devicePixelRatio: 1,
    layout: { padding: { left: 0, right: 35, top: 38, bottom: 0 } },
    plugins: {
      legend: { display: false },
      title: { display: false },
      tooltip: { enabled: false }
    },
    scales: {
      x: {
        type: 'linear',
        min: xRange[0] * MICRO,
        max: xRange[1] * MICRO,
        afterBuildTicks: s => { s.ticks = xTickValues.map(v => ({ value: v * MICRO })); },
        afterFit: s => { s.height = 54; },
        ticks: {
          autoSkip: false,
          maxRotation: 0,
          padding: 8,
          color: '#000',
          font: { family: FONT, size: 19 },
          callback: (v, i) => xTickLabels[i]
        },
        grid: { color: '#c4c4c4', lineWidth: 1, drawTicks: false },
        border: { display: false, dash: [2, 2] }
      },
      y: {
        type: 'linear',
        min: yRange[0] * MICRO,
        max: yRange[1] * MICRO,
        afterBuildTicks: s => { s.ticks = yTickValues.map(v => ({ value: v * MICRO })); },
        afterFit: s => { s.width = 117; },
        ticks: {
          autoSkip: false,
          padding: 7,
          color: '#000',
          font: { family: FONT, size: 19 },
          callback: (v, i) => yTickLabels[i]
        },
        grid: { color: '#c4c4c4', lineWidth: 1, drawTicks: false },
        border: { display: false, dash: [2, 2] }
      }
    }
  },
  plugins: [framePlugin]
});
</script>
</body>
</html>
